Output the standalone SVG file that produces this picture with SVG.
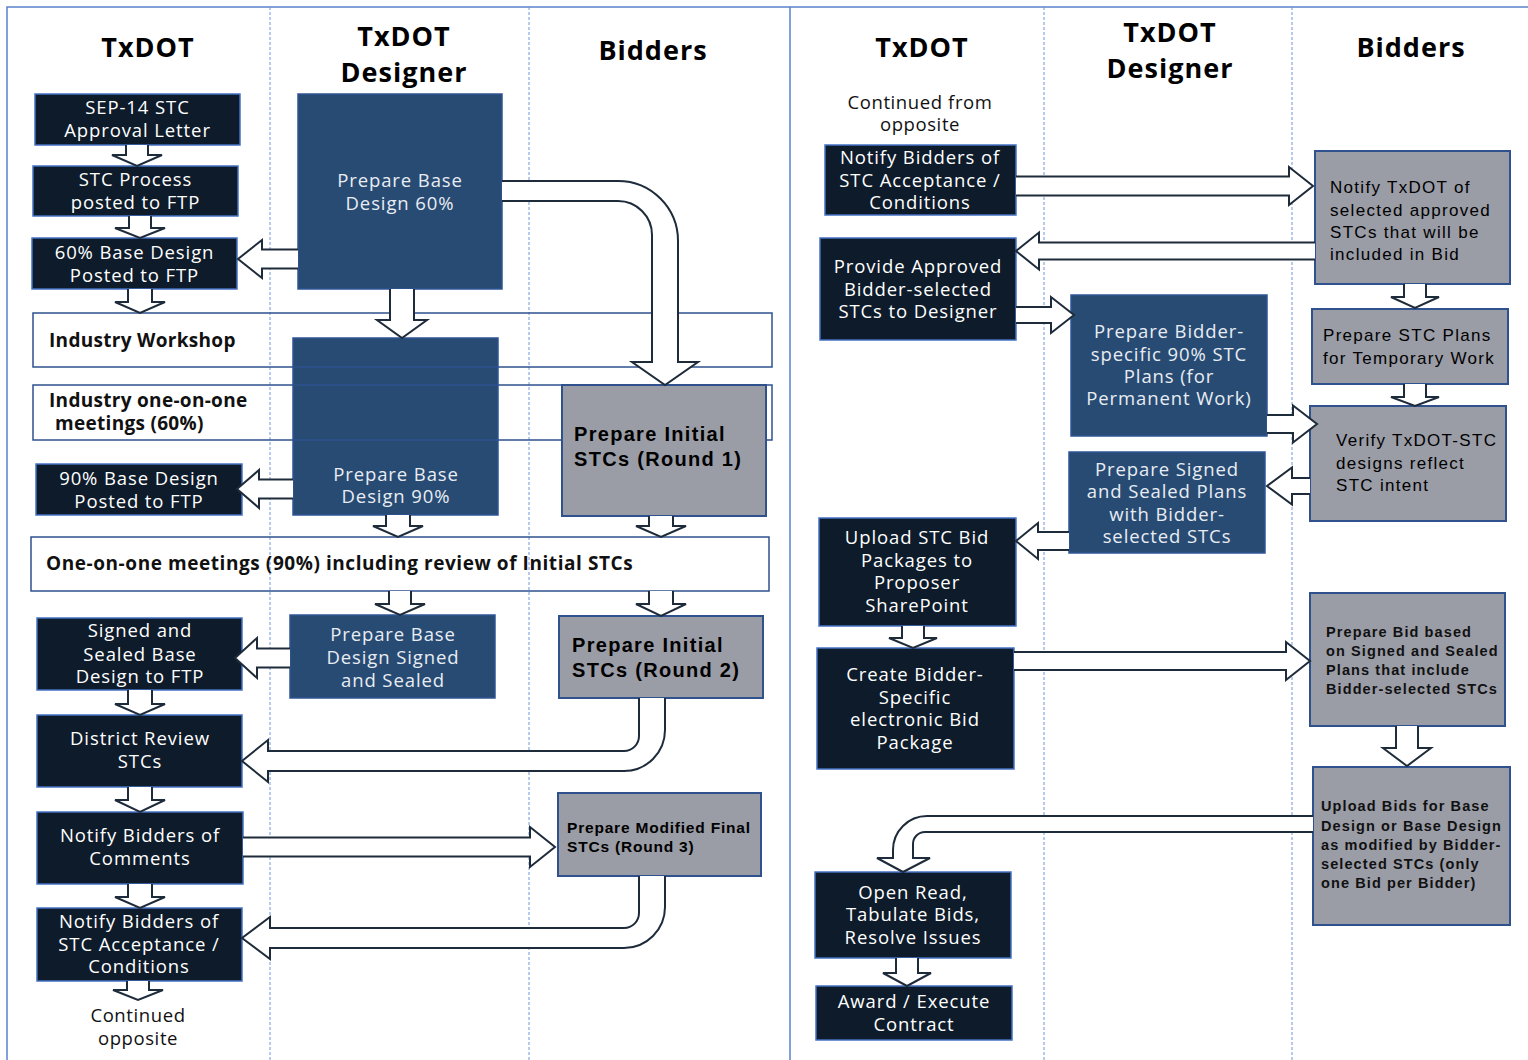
<svg xmlns="http://www.w3.org/2000/svg" width="1528" height="1060" viewBox="0 0 1528 1060">
<style>
.frame{stroke:#5a82cc;stroke-width:1.5;fill:none}
.lane{stroke:#6f97d8;stroke-width:1;stroke-dasharray:3 2;fill:none}
.dk{fill:#0d1b2a;stroke:#4472c4;stroke-width:1.5}
.bl{fill:#274b73;stroke:#2f5597;stroke-width:1.5}
.gr{fill:#9a9ca6;stroke:#2f528f;stroke-width:2}
.wb{fill:none;stroke:#2f528f;stroke-width:1.5}
.hd{font-family:"Open Sans","Liberation Sans",sans-serif;font-weight:bold;font-size:27px;letter-spacing:1px;fill:#000;text-anchor:middle}
.wt{font-family:"Open Sans","Liberation Sans",sans-serif;font-size:18.5px;letter-spacing:0.9px;fill:#fff;text-anchor:middle}
.lt{fill:#e9edf3}
.bt{font-family:"Open Sans","Liberation Sans",sans-serif;font-weight:bold;font-size:19px;letter-spacing:0.3px;fill:#111}
.ct{font-family:"Open Sans","Liberation Sans",sans-serif;font-size:18.5px;letter-spacing:0.6px;fill:#111;text-anchor:middle}
.g1{font-family:"Liberation Sans",Arial,sans-serif;font-weight:bold;font-size:20px;letter-spacing:1.3px;fill:#000}
.g3{font-family:"Liberation Sans",Arial,sans-serif;font-weight:bold;font-size:15.5px;letter-spacing:0.8px;fill:#000}
.g2{font-family:"Liberation Sans",Arial,sans-serif;font-size:17px;letter-spacing:1.3px;fill:#000}
.g4{font-family:"Liberation Sans",Arial,sans-serif;font-weight:bold;font-size:14.5px;letter-spacing:1.1px;fill:#111}
.ar{fill:#fff;stroke:#1e2b3a;stroke-width:2;stroke-linejoin:miter}
</style>

<g id="frame">
<path class="frame" d="M7,1060 V7 H1528 M790,7 V1060"/>
<path class="lane" d="M270,7 V1060 M529,7 V1060 M1044,7 V1060 M1292,7 V1060"/>
</g>

<g id="headers">
<text class="hd" x="148" y="57">TxDOT</text>
<text class="hd" x="404" y="46">TxDOT</text>
<text class="hd" x="404" y="82">Designer</text>
<text class="hd" x="653" y="60">Bidders</text>
<text class="hd" x="922" y="57">TxDOT</text>
<text class="hd" x="1170" y="42">TxDOT</text>
<text class="hd" x="1170" y="78">Designer</text>
<text class="hd" x="1411" y="57">Bidders</text>
</g>

<!-- Left panel nodes -->
<g id="n-sep14">
<rect class="dk" x="35" y="94" width="205" height="51"/>
<text class="wt" x="137.5" y="114">SEP-14 STC</text>
<text class="wt" x="137.5" y="137">Approval Letter</text>
</g>
<g id="n-stcprocess">
<rect class="dk" x="33" y="166" width="205" height="50"/>
<text class="wt" x="135.5" y="186">STC Process</text>
<text class="wt" x="135.5" y="209">posted to FTP</text>
</g>
<g id="n-60posted">
<rect class="dk" x="32" y="238" width="205" height="51"/>
<text class="wt" x="134.5" y="259">60% Base Design</text>
<text class="wt" x="134.5" y="282">Posted to FTP</text>
</g>
<g id="n-base60">
<rect class="bl" x="298" y="94" width="204" height="195"/>
<text class="wt lt" x="400" y="187">Prepare Base</text>
<text class="wt lt" x="400" y="210">Design 60%</text>
</g>
<g id="n-base90">
<rect class="bl" x="293" y="338" width="205" height="177"/>
<text class="wt lt" x="396" y="481">Prepare Base</text>
<text class="wt lt" x="396" y="503">Design 90%</text>
</g>
<g id="n-workshop">
<rect class="wb" x="33" y="313" width="739" height="54"/>
<text class="bt" x="49" y="347">Industry Workshop</text>
</g>
<g id="n-oneonone60">
<rect class="wb" x="33" y="385" width="739" height="55"/>
<text class="bt" x="49" y="407">Industry one-on-one</text>
<text class="bt" x="55" y="430">meetings (60%)</text>
</g>
<g id="n-round1">
<rect class="gr" x="562" y="385" width="204" height="131"/>
<text class="g1" x="574" y="441">Prepare Initial</text>
<text class="g1" x="574" y="466">STCs (Round 1)</text>
</g>
<g id="n-90posted">
<rect class="dk" x="36" y="464" width="206" height="51"/>
<text class="wt" x="139" y="485">90% Base Design</text>
<text class="wt" x="139" y="508">Posted to FTP</text>
</g>
<g id="n-oneonone90">
<rect class="wb" x="31" y="537" width="738" height="54"/>
<text class="bt" x="46" y="570" textLength="587" lengthAdjust="spacing">One-on-one meetings (90%) including  review of Initial STCs</text>
</g>
<g id="n-signedposted">
<rect class="dk" x="37" y="618" width="205" height="72"/>
<text class="wt" x="140" y="637">Signed and</text>
<text class="wt" x="140" y="661">Sealed Base</text>
<text class="wt" x="140" y="683">Design to FTP</text>
</g>
<g id="n-basesigned">
<rect class="bl" x="290" y="615" width="205" height="83"/>
<text class="wt lt" x="393" y="641">Prepare Base</text>
<text class="wt lt" x="393" y="664">Design Signed</text>
<text class="wt lt" x="393" y="687">and Sealed</text>
</g>
<g id="n-round2">
<rect class="gr" x="559" y="616" width="204" height="82"/>
<text class="g1" x="572" y="652">Prepare Initial</text>
<text class="g1" x="572" y="677">STCs (Round 2)</text>
</g>
<g id="n-district">
<rect class="dk" x="37" y="715" width="205" height="72"/>
<text class="wt" x="140" y="745">District Review</text>
<text class="wt" x="140" y="768">STCs</text>
</g>
<g id="n-notifycomments">
<rect class="dk" x="37" y="812" width="206" height="72"/>
<text class="wt" x="140" y="842">Notify Bidders of</text>
<text class="wt" x="140" y="865">Comments</text>
</g>
<g id="n-round3">
<rect class="gr" x="558" y="793" width="203" height="83"/>
<text class="g3" x="567" y="833">Prepare Modified Final</text>
<text class="g3" x="567" y="852">STCs (Round 3)</text>
</g>
<g id="n-notifyaccept">
<rect class="dk" x="37" y="908" width="205" height="73"/>
<text class="wt" x="139" y="928">Notify Bidders of</text>
<text class="wt" x="139" y="951">STC Acceptance /</text>
<text class="wt" x="139" y="973">Conditions</text>
</g>
<g id="n-continued1">
<text class="ct" x="138" y="1022">Continued</text>
<text class="ct" x="138" y="1045">opposite</text>
</g>

<!-- Right panel nodes -->
<g id="n-continued2">
<text class="ct" x="920" y="109">Continued from</text>
<text class="ct" x="920" y="131">opposite</text>
</g>
<g id="n-notifyaccept2">
<rect class="dk" x="825" y="145" width="191" height="70"/>
<text class="wt" x="920" y="164">Notify Bidders of</text>
<text class="wt" x="920" y="187">STC Acceptance /</text>
<text class="wt" x="920" y="209">Conditions</text>
</g>
<g id="n-notifytxdot">
<rect class="gr" x="1315" y="151" width="195" height="133"/>
<text class="g2" x="1330" y="193">Notify TxDOT of</text>
<text class="g2" x="1330" y="216">selected approved</text>
<text class="g2" x="1330" y="238">STCs that will be</text>
<text class="g2" x="1330" y="260">included in Bid</text>
</g>
<g id="n-provide">
<rect class="dk" x="820" y="238" width="196" height="102"/>
<text class="wt" x="918" y="273">Provide Approved</text>
<text class="wt" x="918" y="296">Bidder-selected</text>
<text class="wt" x="918" y="318">STCs to Designer</text>
</g>
<g id="n-temporary">
<rect class="gr" x="1312" y="309" width="196" height="75"/>
<text class="g2" x="1323" y="341">Prepare STC Plans</text>
<text class="g2" x="1323" y="364">for Temporary Work</text>
</g>
<g id="n-bidder90">
<rect class="bl" x="1071" y="295" width="196" height="141"/>
<text class="wt lt" x="1169" y="338">Prepare Bidder-</text>
<text class="wt lt" x="1169" y="361">specific 90% STC</text>
<text class="wt lt" x="1169" y="383">Plans (for</text>
<text class="wt lt" x="1169" y="405">Permanent Work)</text>
</g>
<g id="n-verify">
<rect class="gr" x="1310" y="406" width="196" height="115"/>
<text class="g2" x="1336" y="446">Verify TxDOT-STC</text>
<text class="g2" x="1336" y="469">designs reflect</text>
<text class="g2" x="1336" y="491">STC intent</text>
</g>
<g id="n-signedplans">
<rect class="bl" x="1069" y="452" width="196" height="101"/>
<text class="wt lt" x="1167" y="476">Prepare Signed</text>
<text class="wt lt" x="1167" y="498">and Sealed Plans</text>
<text class="wt lt" x="1167" y="521">with Bidder-</text>
<text class="wt lt" x="1167" y="543">selected STCs</text>
</g>
<g id="n-upload">
<rect class="dk" x="819" y="518" width="197" height="108"/>
<text class="wt" x="917" y="544">Upload STC Bid</text>
<text class="wt" x="917" y="567">Packages to</text>
<text class="wt" x="917" y="589">Proposer</text>
<text class="wt" x="917" y="612">SharePoint</text>
</g>
<g id="n-create">
<rect class="dk" x="817" y="648" width="197" height="121"/>
<text class="wt" x="915" y="681">Create Bidder-</text>
<text class="wt" x="915" y="704">Specific</text>
<text class="wt" x="915" y="726">electronic Bid</text>
<text class="wt" x="915" y="749">Package</text>
</g>
<g id="n-preparebid">
<rect class="gr" x="1310" y="593" width="195" height="133"/>
<text class="g4" x="1326" y="637">Prepare Bid based</text>
<text class="g4" x="1326" y="656">on Signed and Sealed</text>
<text class="g4" x="1326" y="675">Plans that include</text>
<text class="g4" x="1326" y="694">Bidder-selected STCs</text>
</g>
<g id="n-uploadbids">
<rect class="gr" x="1313" y="767" width="197" height="158"/>
<text class="g4" x="1321" y="811">Upload Bids for Base</text>
<text class="g4" x="1321" y="831">Design or Base Design</text>
<text class="g4" x="1321" y="850">as modified by Bidder-</text>
<text class="g4" x="1321" y="869">selected STCs (only</text>
<text class="g4" x="1321" y="888">one Bid per Bidder)</text>
</g>
<g id="n-openread">
<rect class="dk" x="815" y="872" width="196" height="86"/>
<text class="wt" x="913" y="899">Open Read,</text>
<text class="wt" x="913" y="921">Tabulate Bids,</text>
<text class="wt" x="913" y="944">Resolve Issues</text>
</g>
<g id="n-award">
<rect class="dk" x="816" y="986" width="196" height="54"/>
<text class="wt" x="914" y="1008">Award / Execute</text>
<text class="wt" x="914" y="1031">Contract</text>
</g>

<g id="connectors">
<!-- left panel down arrows -->
<path class="ar" d="M126,145 V155 H112 L137,166 L162,155 H148 V145"/>
<path class="ar" d="M129,216 V228 H115 L140,238 L165,228 H151 V216"/>
<path class="ar" d="M128,289 V302 H115 L140,313 L165,302 H152 V289"/>
<path class="ar" d="M390,289 V320 H377 L402,338 L427,320 H414 V289"/>
<path class="ar" d="M386,515 V526 H373 L398,537 L423,526 H410 V515"/>
<path class="ar" d="M649,516 V526 H636 L661,537 L686,526 H673 V516"/>
<path class="ar" d="M389,591 V604 H375 L400,615 L425,604 H411 V591"/>
<path class="ar" d="M649,591 V604 H636 L661,616 L686,604 H673 V591"/>
<path class="ar" d="M128,690 V704 H115 L140,715 L165,704 H152 V690"/>
<path class="ar" d="M128,787 V800 H115 L140,812 L165,800 H152 V787"/>
<path class="ar" d="M128,884 V897 H115 L140,908 L165,897 H152 V884"/>
<path class="ar" d="M127,981 V990 H113 L138,1000 L163,990 H149 V981"/>
<!-- left panel horizontal arrows -->
<path class="ar" d="M298,249.5 H262 V240 L238,259 L262,278 V268.5 H298"/>
<path class="ar" d="M293,479.5 H259 V470 L237,489 L259,508 V498.5 H293"/>
<path class="ar" d="M290,648.5 H257 V638 L235,658 L257,678 V667.5 H290"/>
<path class="ar" d="M243,837.5 H530 V827 L555,847 L530,867 V856.5 H243"/>
<!-- U-turn arrows -->
<path class="ar" d="M502,181 H618 A60,60 0 0 1 678,241 V362 H698 L665,385 L632,362 H652 V235 A34,34 0 0 0 618,201 H502"/>
<path class="ar" d="M639,698 V736 A15,15 0 0 1 624,751 H268 V740 L242,761 L268,782 V771 H624 A41,41 0 0 0 665,730 V698"/>
<path class="ar" d="M639,876 V913 A15,15 0 0 1 624,928 H270 V917 L242,938 L270,959 V948 H624 A41,41 0 0 0 665,907 V876"/>
<!-- right panel -->
<path class="ar" d="M1016,176.5 H1289 V167 L1313,186 L1289,205 V195.5 H1016"/>
<path class="ar" d="M1315,242.5 H1039 V232.5 L1016,251 L1039,269.5 V259.5 H1315"/>
<path class="ar" d="M1016,307 H1051 V297 L1074,315 L1051,333 V323 H1016"/>
<path class="ar" d="M1267,415 H1293 V405.5 L1317,424 L1293,442.5 V433 H1267"/>
<path class="ar" d="M1310,478 H1292 V467.5 L1267,486 L1292,504.5 V494 H1310"/>
<path class="ar" d="M1069,532 H1038 V523 L1016,541 L1038,559 V550 H1069"/>
<path class="ar" d="M1014,652 H1286 V642 L1310,661 L1286,680 V670 H1014"/>
<path class="ar" d="M1404,284 V297 H1391 L1415,308 L1439,297 H1426 V284"/>
<path class="ar" d="M1404,384 V397 H1391 L1415,406 L1439,397 H1426 V384"/>
<path class="ar" d="M902,626 V638 H889 L913,648 L937,638 H924 V626"/>
<path class="ar" d="M1396,726 V748 H1383 L1407,766 L1431,748 H1418 V726"/>
<path class="ar" d="M896,958 V973 H883 L907,986 L931,973 H918 V958"/>
<path class="ar" d="M1313,816 H927 A34,34 0 0 0 893,850 V858 H877 L903,872 L930,858 H913 V844 A12,12 0 0 1 925,832 H1313"/>
</g>
</svg>
